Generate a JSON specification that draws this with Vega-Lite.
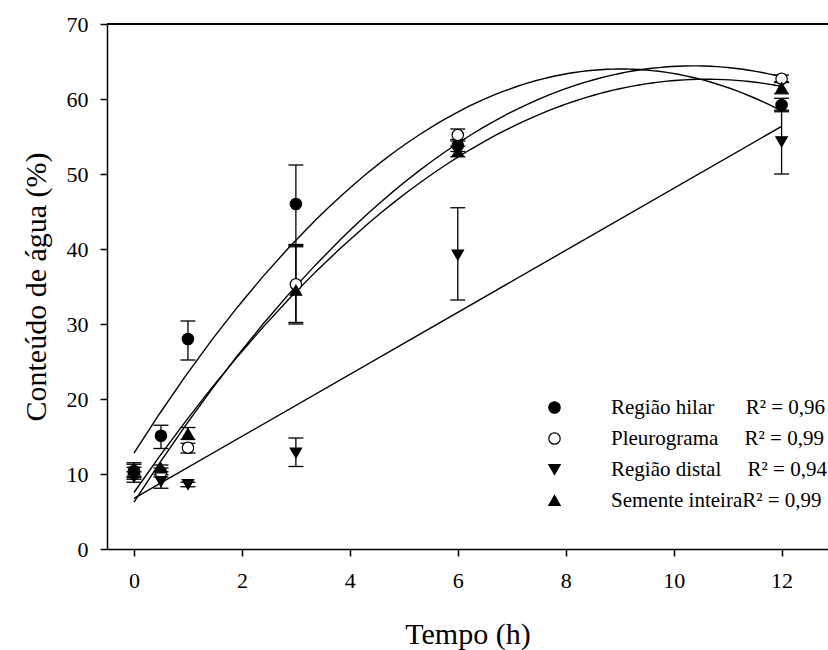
{
  "$schema": "https://vega.github.io/schema/vega-lite/v6.json",
  "width": 721,
  "height": 525,
  "autosize": {"type": "none"},
  "padding": {"left": 107, "top": 24, "right": 0, "bottom": 101},
  "background": "white",
  "config": {
    "view": {"stroke": null},
    "font": "Liberation Serif",
    "axis": {
      "grid": false,
      "domainColor": "black",
      "tickColor": "black",
      "labelColor": "black",
      "titleColor": "black",
      "labelFont": "Liberation Serif",
      "titleFont": "Liberation Serif",
      "labelFontSize": 22,
      "titleFontSize": 30,
      "titleFontWeight": "normal",
      "tickSize": 7,
      "domainWidth": 1.5,
      "tickWidth": 1.5
    },
    "legend": {
      "orient": "none",
      "legendX": 437,
      "legendY": 373,
      "padding": 0,
      "labelFont": "Liberation Serif",
      "labelFontSize": 21,
      "labelColor": "black",
      "labelLimit": 400,
      "labelOffset": 46,
      "rowPadding": 9,
      "symbolSize": 130,
      "symbolStrokeColor": "black",
      "symbolStrokeWidth": 1.2
    }
  },
  "data": {
    "values": [
      {"s": "Região hilar", "x": 0, "y": 10.4, "lo": 9.5, "hi": 11.3},
      {"s": "Região hilar", "x": 0.5, "y": 15.1, "lo": 13.4, "hi": 16.5},
      {"s": "Região hilar", "x": 1, "y": 28.0, "lo": 25.2, "hi": 30.4},
      {"s": "Região hilar", "x": 3, "y": 46.0, "lo": 40.6, "hi": 51.2},
      {"s": "Região hilar", "x": 6, "y": 53.8, "lo": 53.0, "hi": 54.6},
      {"s": "Região hilar", "x": 12, "y": 59.2, "lo": 58.3, "hi": 60.1},
      {"s": "Pleurograma", "x": 0, "y": 10.1, "lo": 9.3, "hi": 10.9},
      {"s": "Pleurograma", "x": 0.5, "y": 10.2, "lo": 9.6, "hi": 10.8},
      {"s": "Pleurograma", "x": 1, "y": 13.5, "lo": 12.8, "hi": 14.1},
      {"s": "Pleurograma", "x": 3, "y": 35.3, "lo": 30.2, "hi": 40.5},
      {"s": "Pleurograma", "x": 6, "y": 55.2, "lo": 54.4, "hi": 56.0},
      {"s": "Pleurograma", "x": 12, "y": 62.7, "lo": 62.2, "hi": 63.2},
      {"s": "Região distal", "x": 0, "y": 9.6, "lo": 8.9, "hi": 10.3},
      {"s": "Região distal", "x": 0.5, "y": 9.0, "lo": 8.1, "hi": 9.9},
      {"s": "Região distal", "x": 1, "y": 8.6, "lo": 8.3, "hi": 8.9},
      {"s": "Região distal", "x": 3, "y": 12.8, "lo": 11.0, "hi": 14.8},
      {"s": "Região distal", "x": 6, "y": 39.2, "lo": 33.2, "hi": 45.5},
      {"s": "Região distal", "x": 12, "y": 54.3, "lo": 50.0, "hi": 58.5},
      {"s": "Semente inteira", "x": 0, "y": 10.6, "lo": 9.7, "hi": 11.5},
      {"s": "Semente inteira", "x": 0.5, "y": 10.8, "lo": 10.3, "hi": 11.2},
      {"s": "Semente inteira", "x": 1, "y": 15.4, "lo": 14.6, "hi": 16.2},
      {"s": "Semente inteira", "x": 3, "y": 34.5, "lo": 30.0, "hi": 40.3},
      {"s": "Semente inteira", "x": 6, "y": 53.0, "lo": 52.3, "hi": 53.7},
      {"s": "Semente inteira", "x": 12, "y": 61.5, "lo": 60.7, "hi": 62.3}
    ]
  },
  "layer": [
    {
      "mark": {"type": "rule", "color": "black", "strokeWidth": 1.5},
      "encoding": {"y": {"datum": 70, "type": "quantitative", "title": "Conteúdo de água (%)"}}
    },
    {
      "mark": {"type": "rule", "color": "black", "strokeWidth": 1.3},
      "encoding": {
        "x": {"field": "x", "type": "quantitative", "title": "Tempo (h)"},
        "y": {"field": "lo", "type": "quantitative", "title": "Conteúdo de água (%)"},
        "y2": {"field": "hi"}
      }
    },
    {
      "mark": {"type": "tick", "orient": "horizontal", "color": "black", "size": 15, "thickness": 1.3, "opacity": 1},
      "encoding": {
        "x": {"field": "x", "type": "quantitative", "title": "Tempo (h)"},
        "y": {"field": "lo", "type": "quantitative", "title": "Conteúdo de água (%)"}
      }
    },
    {
      "mark": {"type": "tick", "orient": "horizontal", "color": "black", "size": 15, "thickness": 1.3, "opacity": 1},
      "encoding": {
        "x": {"field": "x", "type": "quantitative", "title": "Tempo (h)"},
        "y": {"field": "hi", "type": "quantitative", "title": "Conteúdo de água (%)"}
      }
    },
    {
      "transform": [
        {"filter": "datum.s != 'Região distal'"},
        {"regression": "y", "on": "x", "groupby": ["s"], "method": "poly", "order": 2, "extent": [0, 12]}
      ],
      "mark": {"type": "line", "color": "black", "strokeWidth": 1.4},
      "encoding": {
        "x": {"field": "x", "type": "quantitative", "title": "Tempo (h)"},
        "y": {"field": "y", "type": "quantitative", "title": "Conteúdo de água (%)"},
        "detail": {"field": "s", "type": "nominal"}
      }
    },
    {
      "transform": [
        {"filter": "datum.s == 'Região distal'"},
        {"regression": "y", "on": "x", "method": "linear", "extent": [0, 12]}
      ],
      "mark": {"type": "line", "color": "black", "strokeWidth": 1.4},
      "encoding": {
        "x": {"field": "x", "type": "quantitative", "title": "Tempo (h)"},
        "y": {"field": "y", "type": "quantitative", "title": "Conteúdo de água (%)"}
      }
    },
    {
      "mark": {"type": "point", "filled": true, "size": 130, "strokeWidth": 1.2, "opacity": 1},
      "encoding": {
        "x": {
          "field": "x",
          "type": "quantitative",
          "title": "Tempo (h)",
          "scale": {"domain": [-0.5, 12.86], "nice": false, "zero": false},
          "axis": {
            "values": [0, 2, 4, 6, 8, 10, 12],
            "format": "d",
            "labelPadding": 14,
            "titleBaseline": "alphabetic",
            "titleY": 94
          }
        },
        "y": {
          "field": "y",
          "type": "quantitative",
          "title": "Conteúdo de água (%)",
          "scale": {"domain": [0, 70], "nice": false, "zero": true},
          "axis": {
            "values": [0, 10, 20, 30, 40, 50, 60, 70],
            "format": "d",
            "labelPadding": 12,
            "titleX": -62,
            "titleBaseline": "alphabetic"
          }
        },
        "shape": {
          "field": "s",
          "type": "nominal",
          "scale": {"domain": ["Região hilar", "Pleurograma", "Região distal", "Semente inteira"], "range": ["circle", "circle", "triangle-down", "triangle-up"]},
          "legend": {
            "title": null,
            "labelExpr": "datum.label == 'Região hilar' ? 'Região hilar\u00a0\u00a0\u00a0\u00a0\u00a0\u00a0R² = 0,96' : datum.label == 'Pleurograma' ? 'Pleurograma\u00a0\u00a0\u00a0\u00a0\u00a0R² = 0,99' : datum.label == 'Região distal' ? 'Região distal\u00a0\u00a0\u00a0\u00a0\u00a0R² = 0,94' : 'Semente inteiraR² = 0,99'"
          }
        },
        "fill": {
          "field": "s",
          "type": "nominal",
          "scale": {"domain": ["Região hilar", "Pleurograma", "Região distal", "Semente inteira"], "range": ["black", "white", "black", "black"]},
          "legend": {
            "title": null,
            "labelExpr": "datum.label == 'Região hilar' ? 'Região hilar\u00a0\u00a0\u00a0\u00a0\u00a0\u00a0R² = 0,96' : datum.label == 'Pleurograma' ? 'Pleurograma\u00a0\u00a0\u00a0\u00a0\u00a0R² = 0,99' : datum.label == 'Região distal' ? 'Região distal\u00a0\u00a0\u00a0\u00a0\u00a0R² = 0,94' : 'Semente inteiraR² = 0,99'"
          }
        },
        "stroke": {
          "field": "s",
          "type": "nominal",
          "scale": {"domain": ["Região hilar", "Pleurograma", "Região distal", "Semente inteira"], "range": ["black", "black", "black", "black"]},
          "legend": {
            "title": null,
            "labelExpr": "datum.label == 'Região hilar' ? 'Região hilar\u00a0\u00a0\u00a0\u00a0\u00a0\u00a0R² = 0,96' : datum.label == 'Pleurograma' ? 'Pleurograma\u00a0\u00a0\u00a0\u00a0\u00a0R² = 0,99' : datum.label == 'Região distal' ? 'Região distal\u00a0\u00a0\u00a0\u00a0\u00a0R² = 0,94' : 'Semente inteiraR² = 0,99'"
          }
        }
      }
    }
  ]
}
